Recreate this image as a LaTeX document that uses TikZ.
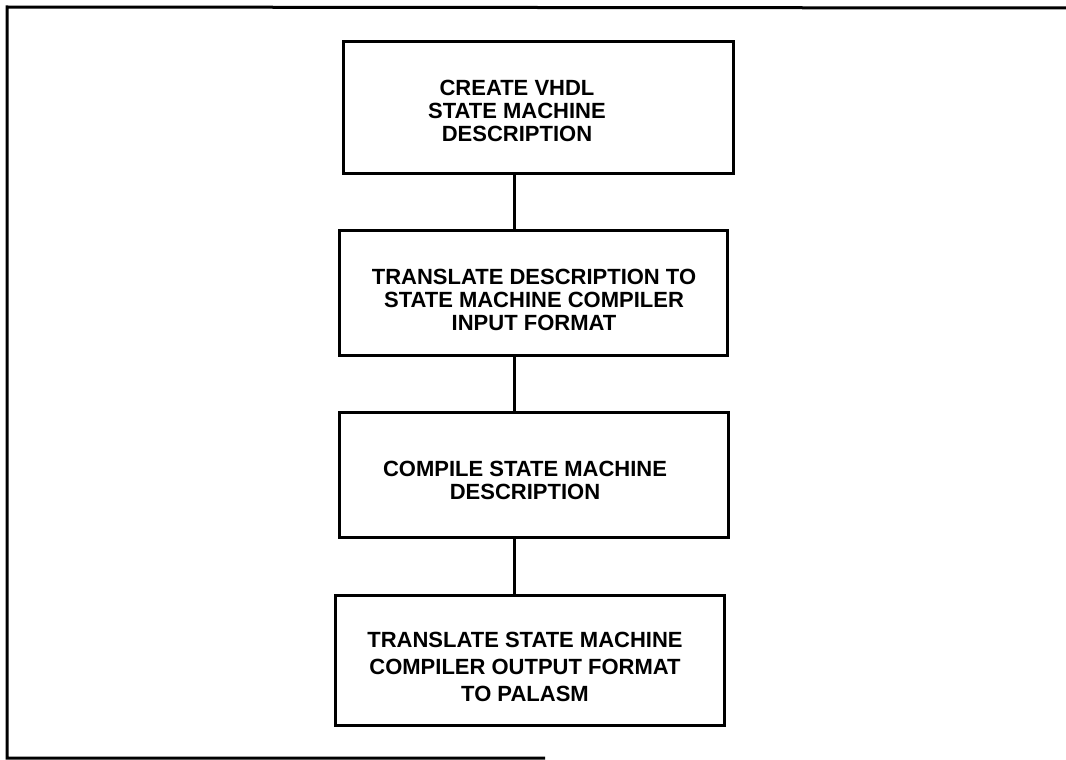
\documentclass[tikz,border=0pt]{standalone}
\usepackage{fontspec}
\setmainfont{Liberation Sans}
\usepackage{tikz}

\begin{document}
\begin{tikzpicture}[x=1pt,y=-1pt,
    box/.style={draw, line width=3pt, minimum width=389pt, minimum height=128pt},
    txt/.style={font=\fontsize{22}{23}\selectfont\bfseries, align=center, inner sep=0pt}]
    \useasboundingbox (0,0) rectangle (1066,760);

    % outer frame
    \draw[line width=3pt] (1066,8) -- (7,7) -- (7,758) -- (545,758);

    \node[box, minimum width=390pt, minimum height=131pt] (b1) at (538,107.5) {};
    \node[box, minimum width=388pt, minimum height=125pt] (b2) at (533,292.5) {};
    \node[box, minimum height=125pt] (b3) at (533.5,474.5) {};
    \node[box, minimum height=130pt] (b4) at (529.5,660) {};

    \node[txt] (t1) at (517,111) {CREATE VHDL\\STATE MACHINE\\DESCRIPTION};
    \node[txt] (t2) at (534,300) {TRANSLATE DESCRIPTION TO\\STATE MACHINE COMPILER\\INPUT FORMAT};
    \node[txt] (t3) at (525,480) {COMPILE STATE MACHINE\\DESCRIPTION};
    \node[txt, font=\fontsize{22}{27}\selectfont\bfseries] (t4) at (525,667) {TRANSLATE STATE MACHINE\\COMPILER OUTPUT FORMAT\\TO PALASM};

    \coordinate (sp) at (514,0);
    \draw[line width=3pt] (b1.south -| sp) -- (b2.north -| sp);
    \draw[line width=3pt] (b2.south -| sp) -- (b3.north -| sp);
    \draw[line width=3pt] (b3.south -| sp) -- (b4.north -| sp);
\end{tikzpicture}
\end{document}
